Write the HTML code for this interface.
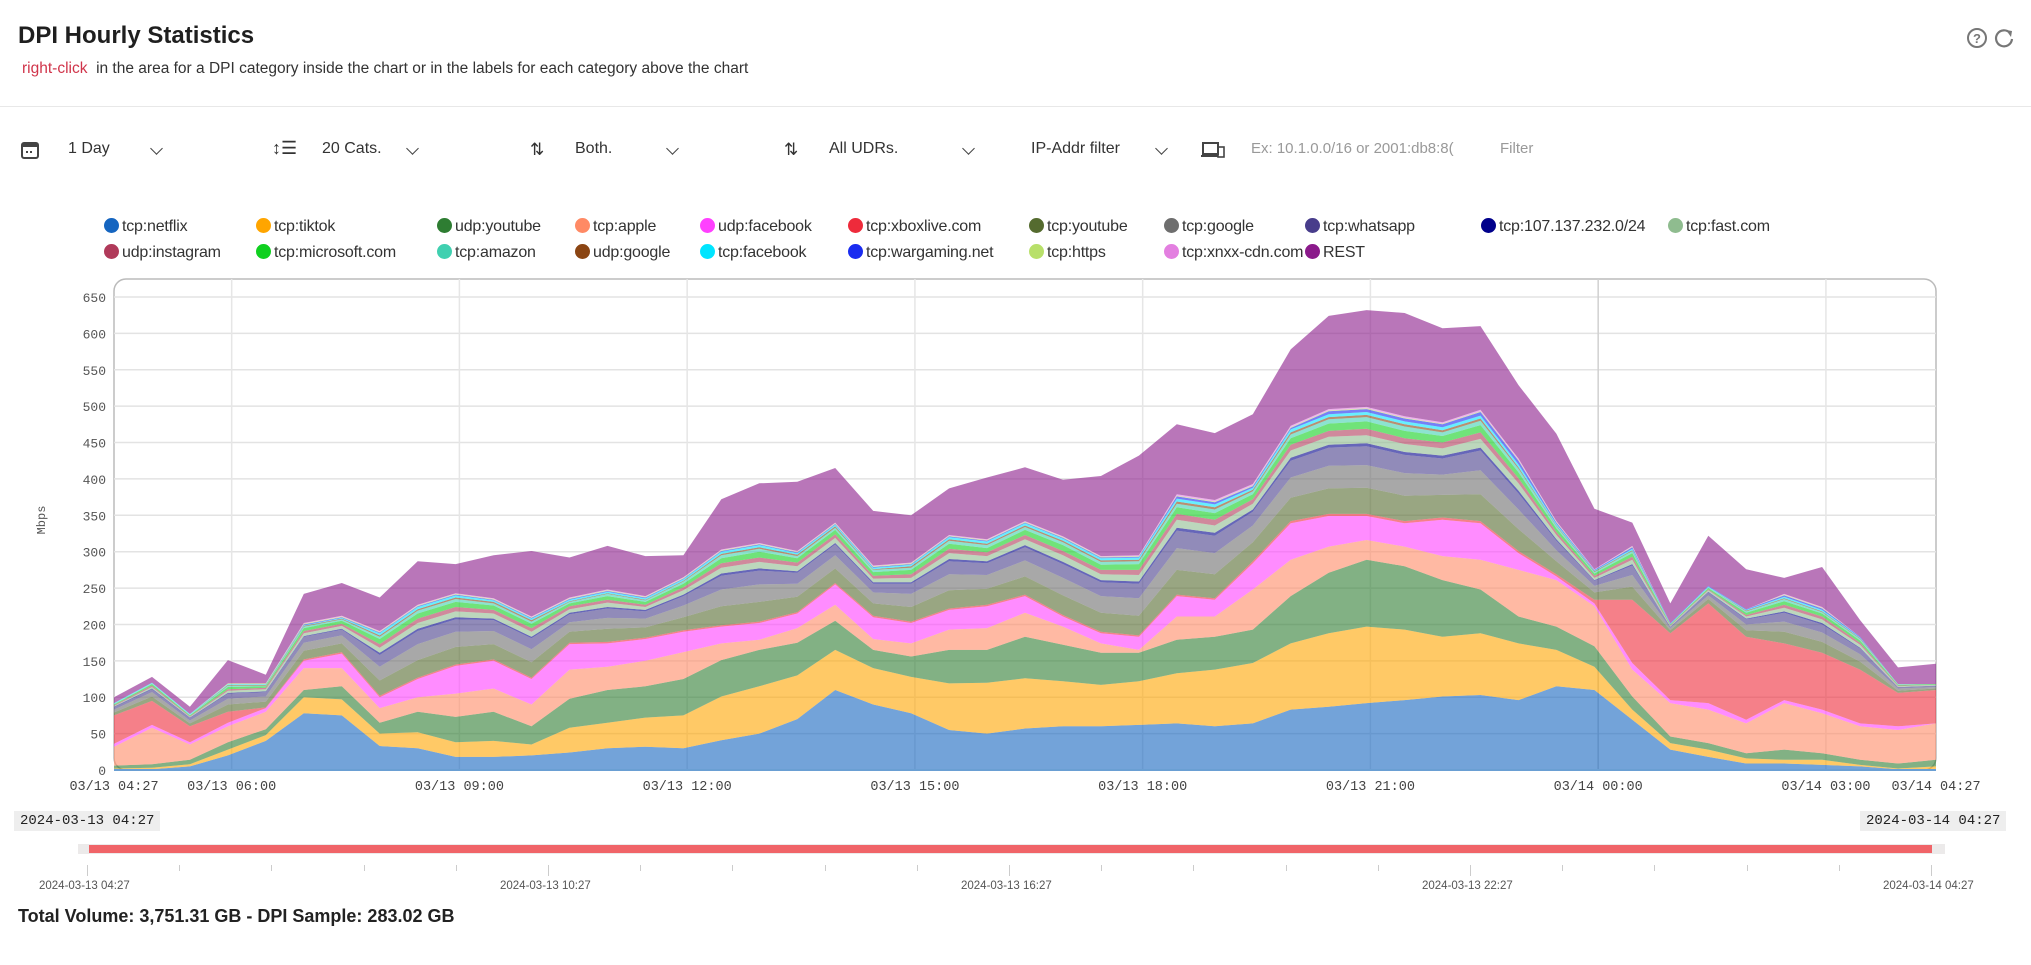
<!DOCTYPE html>
<html><head><meta charset="utf-8">
<style>
body{margin:0;width:2031px;height:965px;background:#fff;font-family:"Liberation Sans",sans-serif;color:#222;position:relative;overflow:hidden}
.abs{position:absolute;white-space:nowrap}
.tb{font-size:16px;color:#333;top:140px}
.chev{top:144px;width:8px;height:8px;border-right:1.8px solid #444;border-bottom:1.8px solid #444;transform:rotate(45deg)}
.leg{font-size:16px;color:#333;letter-spacing:-0.2px}
.dot{display:inline-block;width:15px;height:15px;border-radius:50%;vertical-align:-2px;margin-right:3px}
.chip{background:#eeeeee;font-family:"Liberation Mono",monospace;font-size:14px;color:#222;padding:2px 6px;top:811px}
.sl{font-size:11.5px;color:#555;top:880px}
</style></head><body>
<div class="abs" style="left:18px;top:22px;font-size:24px;font-weight:bold;color:#1f1f1f">DPI Hourly Statistics</div>
<div class="abs" style="left:22px;top:60px;font-size:15.5px;color:#333"><span style="color:#d0344a">right-click</span>&nbsp; in the area for a DPI category inside the chart or in the labels for each category above the chart</div>
<svg class="abs" style="left:1966px;top:27px" width="22" height="22"><circle cx="11" cy="11" r="9" fill="none" stroke="#777" stroke-width="2"/><text x="11" y="16" text-anchor="middle" font-size="13" font-weight="bold" fill="#777">?</text></svg>
<svg class="abs" style="left:1993px;top:27px" width="22" height="22"><path d="M17 6 A8 8 0 1 0 19 12" fill="none" stroke="#777" stroke-width="2.2"/><path d="M13 3 L19 4 L18 10 Z" fill="#777"/></svg>
<div class="abs" style="left:0;top:106px;width:2031px;height:1px;background:#e8e8e8"></div>

<svg class="abs" style="left:20px;top:140px" width="20" height="20"><rect x="2" y="3" width="16" height="15" rx="2" fill="none" stroke="#444" stroke-width="2"/><rect x="2" y="3" width="16" height="4" fill="#444"/><rect x="6" y="11" width="2" height="2" fill="#444"/><rect x="10" y="11" width="2" height="2" fill="#444"/></svg>
<div class="abs tb" style="left:68px">1 Day</div>
<div class="abs chev" style="left:152px"></div>
<div class="abs tb" style="left:272px;font-size:18px;top:138px">↕☰</div>
<div class="abs tb" style="left:322px">20 Cats.</div>
<div class="abs chev" style="left:408px"></div>
<div class="abs tb" style="left:530px;font-size:17px">⇅</div>
<div class="abs tb" style="left:575px">Both.</div>
<div class="abs chev" style="left:668px"></div>
<div class="abs tb" style="left:784px;font-size:17px">⇅</div>
<div class="abs tb" style="left:829px">All UDRs.</div>
<div class="abs chev" style="left:964px"></div>
<div class="abs tb" style="left:1031px">IP-Addr filter</div>
<div class="abs chev" style="left:1157px"></div>
<svg class="abs" style="left:1200px;top:140px" width="26" height="20"><rect x="3" y="3" width="15" height="11" fill="none" stroke="#444" stroke-width="2"/><rect x="1" y="15" width="17" height="2" fill="#444"/><rect x="18" y="7" width="6" height="10" fill="none" stroke="#444" stroke-width="1.6"/></svg>
<div class="abs tb" style="left:1251px;width:220px;overflow:hidden;color:#999;font-size:15px">Ex: 10.1.0.0/16 or 2001:db8:8(</div>
<div class="abs tb" style="left:1500px;color:#999;font-size:15px">Filter</div>

<div id="legend"></div>

<svg id="chart" class="abs" style="left:0;top:270px" width="2031" height="530"></svg>

<div class="abs chip" style="left:14px">2024-03-13 04:27</div>
<div class="abs chip" style="left:1860px">2024-03-14 04:27</div>
<div class="abs" style="left:78px;top:844px;width:1867px;height:10px;background:#eceaea"></div>
<div class="abs" style="left:89px;top:845px;width:1843px;height:8px;background:#f06468"></div>
<div id="sticks"></div>
<div class="abs" style="left:18px;top:906px;font-size:18px;font-weight:bold;color:#222">Total Volume: 3,751.31 GB - DPI Sample: 283.02 GB</div>

<script>
const categories=["tcp:netflix","tcp:tiktok","udp:youtube","tcp:apple","udp:facebook","tcp:xboxlive.com","tcp:youtube","tcp:google","tcp:whatsapp","tcp:107.137.232.0/24","tcp:fast.com","udp:instagram","tcp:microsoft.com","tcp:amazon","udp:google","tcp:facebook","tcp:wargaming.net","tcp:https","tcp:xnxx-cdn.com","REST"];
const colors=["#1565C0","#FFA500","#2E7D32","#FF8A65","#FF40FF","#EE2B3B","#556B2F","#6E6E6E","#483D8B","#00008B","#8FBC8F","#B03A5A","#10D020","#40D0B0","#8B4513","#00E5FF","#1A2CF0","#B8E06A","#E37FE0","#8B1A8B"];
const timeLabels=["03/13 04:27","03/13 06:00","03/13 09:00","03/13 12:00","03/13 15:00","03/13 18:00","03/13 21:00","03/14 00:00","03/14 03:00","03/14 04:27"];
const timeTicks=[0,93,273,453,633,813,993,1173,1353,1440];
const yTicks=[0,50,100,150,200,250,300,350,400,450,500,550,600,650];
const netflix=[0,1,5,20,40,78,75,33,30,18,18,20,24,30,32,30,41,50,70,110,90,78,55,50,57,60,60,62,64,60,64,83,87,92,96,101,103,96,115,110,69,28,18,9,9,7,5,1,1];
const tiktok=[2,2,3,8,8,22,22,17,22,20,22,15,34,35,40,45,60,65,60,55,50,50,64,70,69,62,57,60,69,78,83,91,101,105,97,82,85,78,50,32,14,9,10,7,5,7,2,1,4];
const udpYoutube=[4,5,6,10,8,10,18,15,28,35,40,25,40,45,43,50,50,50,45,40,25,28,46,45,57,50,44,39,46,45,46,65,83,92,87,78,60,37,32,28,18,9,9,7,14,9,7,7,9];
const apple=[26,50,21,22,24,30,25,20,20,32,32,30,40,32,35,37,23,14,20,22,15,18,28,30,33,25,13,4,32,28,55,50,36,27,27,33,41,64,64,55,37,46,46,41,64,55,46,46,50];
const udpFacebook=[4,4,3,5,5,10,20,15,25,38,38,35,35,32,30,28,23,23,20,28,30,28,27,30,23,14,14,18,28,23,36,50,42,33,32,50,50,23,5,4,9,4,9,5,4,5,4,5,0];
const xbox=[39,33,22,15,1,2,2,2,2,2,2,2,2,2,2,2,2,2,2,2,2,2,2,2,2,2,2,2,2,2,3,3,3,3,3,3,3,3,3,5,87,92,137,114,78,78,74,46,46];
const tcpYoutube=[4,6,4,10,8,12,12,21,24,24,21,21,15,18,14,18,26,27,21,20,17,20,25,22,25,27,26,27,34,33,26,32,35,36,35,31,37,30,18,10,18,4,6,9,16,15,11,3,2];
const google=[4,6,4,8,7,11,11,19,22,21,18,18,13,15,12,16,23,24,18,18,15,18,22,19,22,24,23,24,30,29,23,28,31,31,31,28,33,27,15,9,16,3,5,8,14,13,10,3,2];
const whatsapp=[3,4,3,7,6,8,8,16,18,17,15,15,11,13,10,13,19,19,15,15,12,14,18,16,18,19,19,20,24,24,19,23,25,26,25,22,27,22,13,7,13,2,4,7,12,11,8,2,2];
const net107=[1,1,1,1,1,1,1,3,3,3,2,2,2,2,2,2,3,3,2,2,2,2,3,3,3,3,3,3,4,4,3,4,4,4,4,4,4,4,2,1,2,0,1,1,2,2,1,0,0];
const fastCom=[1,2,1,3,3,4,4,7,8,8,7,7,5,6,4,6,8,9,7,7,5,6,8,7,8,9,8,9,11,10,8,10,11,11,11,10,12,10,6,3,6,1,2,3,5,5,4,1,1];
const instagram=[1,2,1,2,2,3,3,5,6,6,5,5,4,4,3,4,6,6,5,5,4,5,6,5,6,6,6,7,8,8,6,8,8,9,8,8,9,7,4,3,4,1,1,2,4,4,3,1,0];
const microsoft=[1,2,1,3,2,4,4,7,7,7,6,6,4,5,4,5,7,8,6,6,5,6,7,6,7,8,7,8,9,9,7,9,10,10,10,9,10,8,5,3,5,1,2,3,5,4,3,1,1];
const amazon=[1,1,1,2,1,2,2,3,4,4,3,3,2,3,2,3,4,4,3,3,3,3,4,4,4,4,4,4,5,5,4,5,6,6,6,5,6,5,3,2,3,1,1,2,3,2,2,1,0];
const udpGoogle=[0,0,0,1,1,1,1,2,2,2,2,2,1,1,1,1,2,2,2,2,1,2,2,2,2,2,2,2,3,3,2,3,3,3,3,3,3,2,1,1,1,0,0,1,1,1,1,0,0];
const tcpFacebook=[1,1,1,1,1,1,1,3,3,3,2,2,2,2,2,2,3,3,2,2,2,2,3,3,3,3,3,3,4,4,3,4,4,4,4,4,4,4,2,1,2,0,1,1,2,2,1,0,0];
const wargaming=[0,0,0,0,0,1,1,1,1,1,1,1,1,1,1,1,1,1,1,1,1,1,1,1,1,1,1,1,3,3,2,2,4,4,4,4,5,5,2,1,2,1,1,1,2,2,1,0,0];
const https=[0,0,0,1,1,1,1,1,1,1,1,1,1,1,1,1,1,1,1,1,1,1,1,1,1,1,1,1,1,1,1,1,1,1,1,1,1,1,1,0,1,0,0,0,1,1,0,0,0];
const xnxx=[0,0,0,0,0,1,1,1,1,1,1,1,1,1,1,1,1,1,1,1,1,1,1,1,1,1,1,1,2,2,2,2,2,2,2,2,2,2,1,1,1,0,0,0,1,1,0,0,0];
const rest=[8,8,10,32,12,40,45,46,60,40,59,90,55,60,55,30,69,82,95,75,75,65,64,85,74,78,110,137,96,92,96,105,128,133,142,129,115,101,120,83,32,27,69,55,22,55,23,23,28];
const series=[netflix,tiktok,udpYoutube,apple,udpFacebook,xbox,tcpYoutube,google,whatsapp,net107,fastCom,instagram,microsoft,amazon,udpGoogle,tcpFacebook,wargaming,https,xnxx,rest];
const stepMinutes=30;

const legX=[111,263,444,582,707,855,1036,1171,1312,1488,1675];
const leg=document.getElementById('legend');
categories.forEach((c,i)=>{
  const row=i<11?0:1, col=i<11?i:i-11;
  const d=document.createElement('div');
  d.className='abs leg';
  d.style.left=(legX[col]-7)+'px';d.style.top=(row?244:218)+'px';
  d.innerHTML='<span class="dot" style="background:'+colors[i]+'"></span>'+c;
  
  
  leg.appendChild(d);
});

const NS='http://www.w3.org/2000/svg';
const svg=document.getElementById('chart');
const L=114,R=1936,T=9,B=500;
const y0=500, yPer=(500-27)/650;
const xS=m=>L+(R-L)*m/1440;
const yS=v=>y0-v*yPer;
function el(tag,attrs,name,inter){const e=document.createElementNS(NS,tag);for(const k in attrs)e.setAttribute(k,attrs[k]);
 
 
 svg.appendChild(e);return e;}
el('rect',{x:L,y:T,width:R-L,height:B-T,rx:12,fill:'none',stroke:'#bbb','stroke-width':1.5},'plot-frame','false');
yTicks.forEach(v=>{
  el('line',{x1:L,x2:R,y1:yS(v),y2:yS(v),stroke:'#e3e3e3','stroke-width':1.5},'y-gridline','false');
  const t=el('text',{x:L-8,y:yS(v)+5,'text-anchor':'end','font-family':'Liberation Mono, monospace','font-size':13,fill:'#555'},'y-tick-label','false');t.textContent=v;
});
timeTicks.forEach((m,i)=>{
  if(i>0&&i<timeTicks.length-1) el('line',{x1:xS(m),x2:xS(m),y1:T,y2:B,stroke:m==1173?'#d0d0d0':'#e6e6e6','stroke-width':1.5},'x-gridline','false');
  const t=el('text',{x:xS(m),y:B+20,'text-anchor':'middle','font-family':'Liberation Mono, monospace','font-size':13.5,fill:'#444'},'x-tick-label','false');t.textContent=timeLabels[i];
});
const yl=el('text',{x:0,y:0,transform:'translate(45,250) rotate(-90)','text-anchor':'middle','font-family':'Liberation Mono, monospace','font-size':12,fill:'#555'},'y-axis-title','false');yl.textContent='Mbps';
const n=netflix.length;const base=new Array(n).fill(0);
series.forEach((s,k)=>{
  const top=base.map((b,i)=>b+s[i]);
  let d='';
  for(let i=0;i<n;i++)d+=(i?'L':'M')+xS(i*stepMinutes).toFixed(1)+','+yS(top[i]).toFixed(1);
  for(let i=n-1;i>=0;i--)d+='L'+xS(i*stepMinutes).toFixed(1)+','+yS(base[i]).toFixed(1);
  el('path',{d:d+'Z',fill:colors[k],'fill-opacity':0.6,stroke:'none'},'area-'+categories[k].replace(/[^a-z0-9]+/gi,'-').toLowerCase(),'true');
  for(let i=0;i<n;i++)base[i]=top[i];
});
el('line',{x1:L,x2:R,y1:y0,y2:y0,stroke:'#6a9fd3','stroke-width':2},'x-axis-line','false');

const st=document.getElementById('sticks');
const sLabels=["2024-03-13 04:27","2024-03-13 10:27","2024-03-13 16:27","2024-03-13 22:27","2024-03-14 04:27"];
for(let i=0;i<=20;i++){
  const x=87+i*(1931-87)/20, major=i%5==0;
  const d=document.createElement('div');d.className='abs';
  d.style.cssText='left:'+x+'px;top:865px;width:1px;height:'+(major?11:6)+'px;background:#ccc';
  
  
  st.appendChild(d);
  if(major){const l=document.createElement('div');l.className='abs sl';l.style.left=(x-48)+'px';l.textContent=sLabels[i/5];
  
  
  st.appendChild(l);}
}
</script>
</body></html>
